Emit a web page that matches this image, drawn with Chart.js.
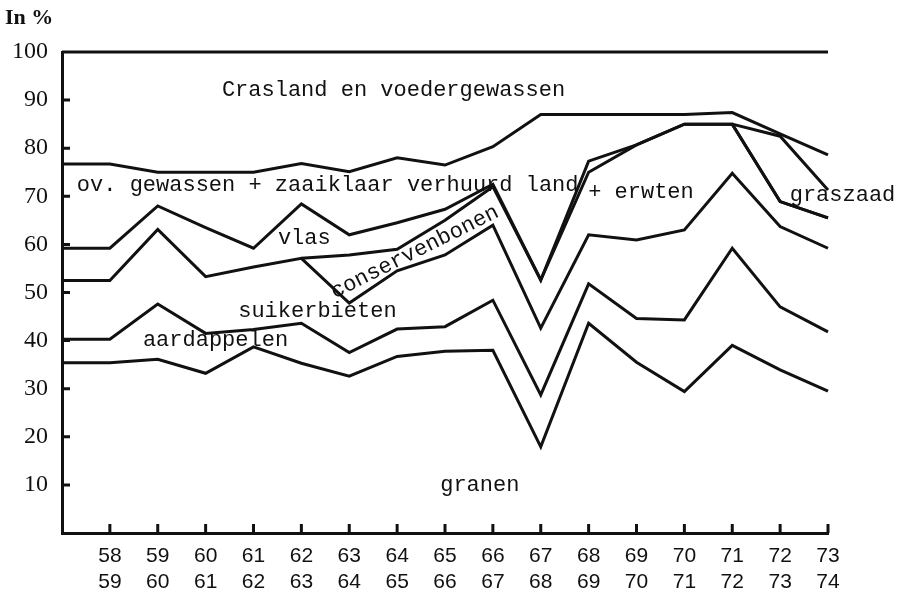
<!DOCTYPE html>
<html>
<head>
<meta charset="utf-8">
<script src="https://cdn.jsdelivr.net/npm/chart.js@4"></script>
<style>
  html, body { margin: 0; padding: 0; background: #fff; }
  #wrap { position: relative; width: 902px; height: 594px; }
  #titel { position: absolute; left: 5px; top: 4px; font: bold 22px "Liberation Serif", serif; color: #111; }
</style>
</head>
<body>
<div id="wrap">
  <div id="titel">In %</div>
  <canvas id="grafiek" width="902" height="594"></canvas>
</div>
<script>
// ============================================
// GEGEVENS (cumulatieve percentages, bovengrens per gewas)
// ============================================

const periodes = [
    '', ['58', '59'], ['59', '60'], ['60', '61'], ['61', '62'], ['62', '63'],
    ['63', '64'], ['64', '65'], ['65', '66'], ['66', '67'], ['67', '68'],
    ['68', '69'], ['69', '70'], ['70', '71'], ['71', '72'], ['72', '73'], ['73', '74']
];

const granen         = [35.4, 35.4, 36.1, 33.2, 38.7, 35.3, 32.6, 36.7, 37.8, 38.0, 17.9, 43.6, 35.5, 29.4, 39.0, 33.9, 29.5];
const aardappelen    = [40.3, 40.3, 47.6, 41.5, 42.3, 43.6, 37.5, 42.4, 42.9, 48.4, 28.7, 51.8, 44.6, 44.3, 59.2, 47.0, 41.8];
const suikerbieten   = [52.5, 52.5, 63.1, 53.3, 55.3, 57.1, 47.8, 54.5, 57.8, 64.0, 42.6, 62.0, 60.9, 63.0, 74.8, 63.7, 59.2];
const conservenbonen = [null, null, null, null, null, 57.1, 57.8, 59.0, 65.0, 72.0, 52.6, 75.0, 80.7, 85.0, 85.0, 68.9, 65.5];
const vlas           = [59.2, 59.2, 68.0, 63.5, 59.2, 68.4, 62.0, 64.5, 67.3, 72.5, 52.6, 77.3, 80.7, 85.0, 85.0, 68.9, 65.5];
const graszaad       = [null, null, null, null, null, null, null, null, null, null, null, null, null, null, 85.0, 82.5, 71.3];
const ovGewassen     = [76.7, 76.7, 75.0, 75.0, 75.0, 76.8, 75.1, 78.0, 76.5, 80.3, 87.0, 87.0, 87.0, 87.0, 87.4, 83.0, 78.6];
const totaal         = [100, 100, 100, 100, 100, 100, 100, 100, 100, 100, 100, 100, 100, 100, 100, 100, 100];

const yTicks = [0, 10, 20, 30, 40, 50, 60, 70, 80, 90, 100];

// teksten in de grafiek: [tekst, categorie-index, waarde, hoek]
const teksten = [
    ['Crasland en voedergewassen', 3.34, 92.1, 0],
    ['ov. gewassen + zaaiklaar verhuurd land', 0.31, 72.3, 0],
    ['vlas', 4.51, 61.3, 0],
    ['suikerbieten', 3.68, 46.2, 0],
    ['aardappelen', 1.69, 40.1, 0],
    ['granen', 7.9, 10.0, 0],
    ['+ erwten', 10.99, 70.9, 0],
    ['graszaad', 15.2, 70.3, 0],
    ['conservenbonen', 7.37, 58.4, -26.5]
];

// ============================================
// TEKENEN
// ============================================

function lijn(label, data) {
    return {
        label: label,
        data: data,
        borderColor: '#111',
        borderWidth: 3,
        pointRadius: 0,
        tension: 0,
        fill: false,
        clip: 4,
        spanGaps: false
    };
}

// korte streepjes naar binnen op beide assen
const binnenStreepjes = {
    id: 'binnenStreepjes',
    afterDraw(chart) {
        const ctx = chart.ctx;
        const xs = chart.scales.x;
        const ys = chart.scales.y;
        const area = chart.chartArea;
        ctx.save();
        ctx.strokeStyle = '#111';
        ctx.lineWidth = 3;
        ctx.beginPath();
        for (const v of yTicks) {
            if (v === 0 || v === 100) continue;
            const py = ys.getPixelForValue(v);
            ctx.moveTo(area.left, py);
            ctx.lineTo(area.left + 8, py);
        }
        for (let i = 1; i < periodes.length; i++) {
            const px = xs.getPixelForValue(i);
            ctx.moveTo(px, area.bottom);
            ctx.lineTo(px, area.bottom - 9);
        }
        ctx.stroke();
        ctx.restore();
    }
};

const gewasTeksten = {
    id: 'gewasTeksten',
    afterDatasetsDraw(chart) {
        const ctx = chart.ctx;
        const xs = chart.scales.x;
        const ys = chart.scales.y;
        ctx.save();
        ctx.fillStyle = '#111';
        ctx.font = '22px "Liberation Mono", monospace';
        ctx.textBaseline = 'middle';
        for (const [tekst, xi, yv, hoek] of teksten) {
            const px = xs.getPixelForValue(xi);
            const py = ys.getPixelForValue(yv);
            if (hoek) {
                ctx.save();
                ctx.translate(px, py);
                ctx.rotate(hoek * Math.PI / 180);
                ctx.textAlign = 'center';
                ctx.fillText(tekst, 0, 0);
                ctx.restore();
            } else {
                ctx.textAlign = 'left';
                ctx.fillText(tekst, px, py);
            }
        }
        ctx.restore();
    }
};

const ctx = document.getElementById('grafiek').getContext('2d');
const chart = new Chart(ctx, {
    type: 'line',
    data: {
        labels: periodes,
        datasets: [
            lijn('granen', granen),
            lijn('aardappelen', aardappelen),
            lijn('suikerbieten', suikerbieten),
            lijn('conservenbonen', conservenbonen),
            lijn('vlas', vlas),
            lijn('graszaad', graszaad),
            lijn('ov. gewassen', ovGewassen),
            lijn('totaal', totaal)
        ]
    },
    options: {
        responsive: false,
        animation: false,
        layout: { padding: { top: 52, right: 74, left: 0, bottom: 0 } },
        plugins: {
            legend: { display: false },
            tooltip: { enabled: false }
        },
        scales: {
            x: {
                offset: false,
                grid: { display: false, drawTicks: false },
                border: { display: true, color: '#111', width: 3 },
                ticks: {
                    color: '#111',
                    autoSkip: false,
                    maxRotation: 0,
                    padding: 10,
                    font: { family: '"Liberation Sans", sans-serif', size: 21, lineHeight: 1.25 }
                },
                afterFit(scale) { scale.height = 61; }
            },
            y: {
                min: 0,
                max: 100,
                grid: { display: false, drawTicks: false },
                border: { display: true, color: '#111', width: 3 },
                ticks: {
                    stepSize: 10,
                    color: '#111',
                    padding: 14,
                    font: { family: '"Liberation Serif", serif', size: 24 },
                    callback: function(v) { return v === 0 ? '' : v; }
                },
                afterFit(scale) { scale.width = 62; }
            }
        }
    },
    plugins: [binnenStreepjes, gewasTeksten]
});
</script>
</body>
</html>
